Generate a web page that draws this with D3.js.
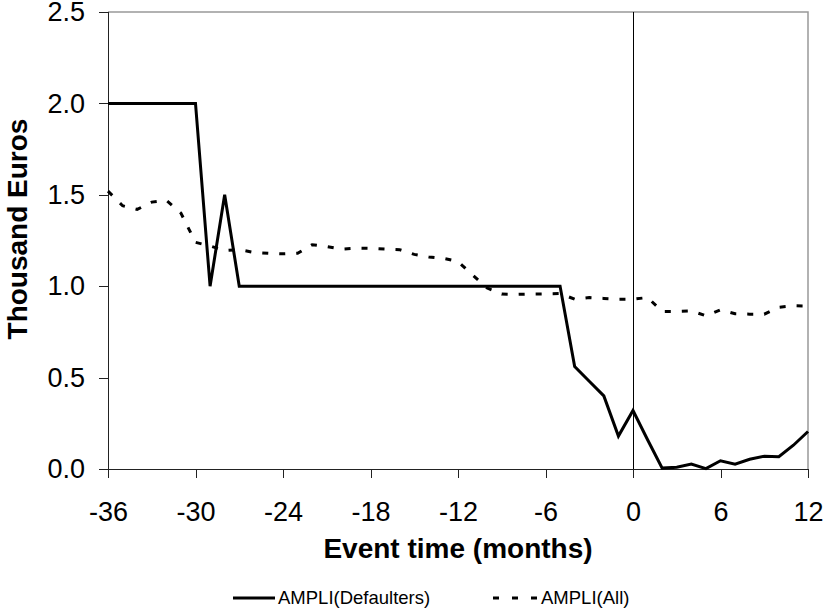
<!DOCTYPE html>
<html>
<head>
<meta charset="utf-8">
<script src="https://cdn.jsdelivr.net/npm/d3@7"></script>
<style>
  body { margin: 0; background: #fff; }
  svg { display: block; }
  .tick text { font-family: Arial, "Liberation Sans", sans-serif; }
</style>
</head>
<body>
<div class="chart"></div>
<script>
// event time in months
var months = d3.range(-36, 13);

// AMPLI(Defaulters)
var defaulters = [2.0, 2.0, 2.0, 2.0, 2.0, 2.0, 2.0,
  1.0, 1.5,
  1.0, 1.0, 1.0, 1.0, 1.0, 1.0, 1.0, 1.0, 1.0, 1.0, 1.0, 1.0,
  1.0, 1.0, 1.0, 1.0, 1.0, 1.0, 1.0, 1.0, 1.0, 1.0, 1.0,
  0.56, 0.48, 0.40, 0.18, 0.32, 0.16,
  0.005, 0.01, 0.027, 0.002, 0.045, 0.026, 0.053, 0.07, 0.067, 0.13, 0.205];

// AMPLI(All)
var allBorrowers = [1.52, 1.44, 1.42, 1.46, 1.47, 1.40, 1.24,
  1.22, 1.195, 1.20, 1.185, 1.18, 1.177, 1.18,
  1.227, 1.217, 1.203, 1.208, 1.207, 1.203, 1.20,
  1.174, 1.16, 1.152, 1.135, 1.062, 0.99, 0.957,
  0.955, 0.957, 0.958, 0.96, 0.929, 0.938, 0.933,
  0.929, 0.929, 0.938, 0.862, 0.862, 0.865, 0.838,
  0.871, 0.849, 0.847, 0.847, 0.885, 0.893, 0.891];

var xTicks = [-36, -30, -24, -18, -12, -6, 0, 6, 12];
var yTicks = [0, 0.5, 1.0, 1.5, 2.0, 2.5];

var svgWidth = 824, svgHeight = 611;
var margin = {top: 12, right: 16, bottom: 142, left: 108};
var width = svgWidth - margin.left - margin.right;
var height = svgHeight - margin.top - margin.bottom;

var svg = d3.select(".chart").append("svg")
  .attr("width", svgWidth)
  .attr("height", svgHeight);

var chartGroup = svg.append("g")
  .attr("transform", `translate(${margin.left}, ${margin.top})`);

var x = d3.scaleLinear().domain([-36, 12]).range([0, width]);
var y = d3.scaleLinear().domain([0, 2.5]).range([height, 0]);

// gray frame on top and right
chartGroup.append("path")
  .attr("d", `M0,0H${width}V${height}`)
  .attr("fill", "none")
  .attr("stroke", "#999")
  .attr("stroke-width", 1.5);

// axes (plain hyphen for negatives, like the original)
var bottomAxis = d3.axisBottom(x).tickValues(xTicks).tickSize(9).tickPadding(43)
  .tickFormat(d => String(d));
var leftAxis = d3.axisLeft(y).tickValues(yTicks).tickSize(9).tickPadding(14)
  .tickFormat(d3.format(".1f"));

var gx = chartGroup.append("g")
  .attr("transform", `translate(0,${height})`)
  .call(bottomAxis);
var gy = chartGroup.append("g").call(leftAxis);

[gx, gy].forEach(function(g) {
  g.selectAll("path, line").attr("stroke", "#222").attr("stroke-width", 1)
    .attr("shape-rendering", "crispEdges");
  g.selectAll("text").attr("font-size", "27px").attr("fill", "#000");
});
gx.selectAll(".tick text").attr("dy", null);

// vertical line at event time 0
chartGroup.append("line")
  .attr("x1", x(0)).attr("x2", x(0))
  .attr("y1", 0).attr("y2", height)
  .attr("stroke", "#000")
  .attr("stroke-width", 1)
  .attr("shape-rendering", "crispEdges");

var line = d3.line()
  .x((d, i) => x(months[i]))
  .y(d => y(d));

chartGroup.append("path")
  .datum(allBorrowers)
  .attr("d", line)
  .attr("fill", "none")
  .attr("stroke", "#000")
  .attr("stroke-width", 3)
  .attr("stroke-dasharray", "6,11");

chartGroup.append("path")
  .datum(defaulters)
  .attr("d", line)
  .attr("fill", "none")
  .attr("stroke", "#000")
  .attr("stroke-width", 3)
  .attr("stroke-linejoin", "miter");

// axis titles
chartGroup.append("text")
  .attr("x", width / 2)
  .attr("y", height + 89)
  .attr("text-anchor", "middle")
  .attr("font-size", "28px")
  .attr("font-weight", "bold")
  .attr("font-family", "Arial, 'Liberation Sans', sans-serif")
  .text("Event time (months)");

svg.append("text")
  .attr("transform", "translate(27, 229)rotate(-90)")
  .attr("text-anchor", "middle")
  .attr("font-size", "28px")
  .attr("font-weight", "bold")
  .attr("font-family", "Arial, 'Liberation Sans', sans-serif")
  .text("Thousand Euros");

// legend
var legend = svg.append("g")
  .attr("font-family", "Arial, 'Liberation Sans', sans-serif")
  .attr("font-size", "18.5px");

legend.append("line")
  .attr("x1", 233).attr("x2", 275).attr("y1", 598).attr("y2", 598)
  .attr("stroke", "#000").attr("stroke-width", 3);
legend.append("text").attr("x", 278).attr("y", 604).text("AMPLI(Defaulters)");

legend.append("line")
  .attr("x1", 493).attr("x2", 538).attr("y1", 598).attr("y2", 598)
  .attr("stroke", "#000").attr("stroke-width", 3)
  .attr("stroke-dasharray", "6,13");
legend.append("text").attr("x", 541).attr("y", 604).text("AMPLI(All)");
</script>
</body>
</html>
